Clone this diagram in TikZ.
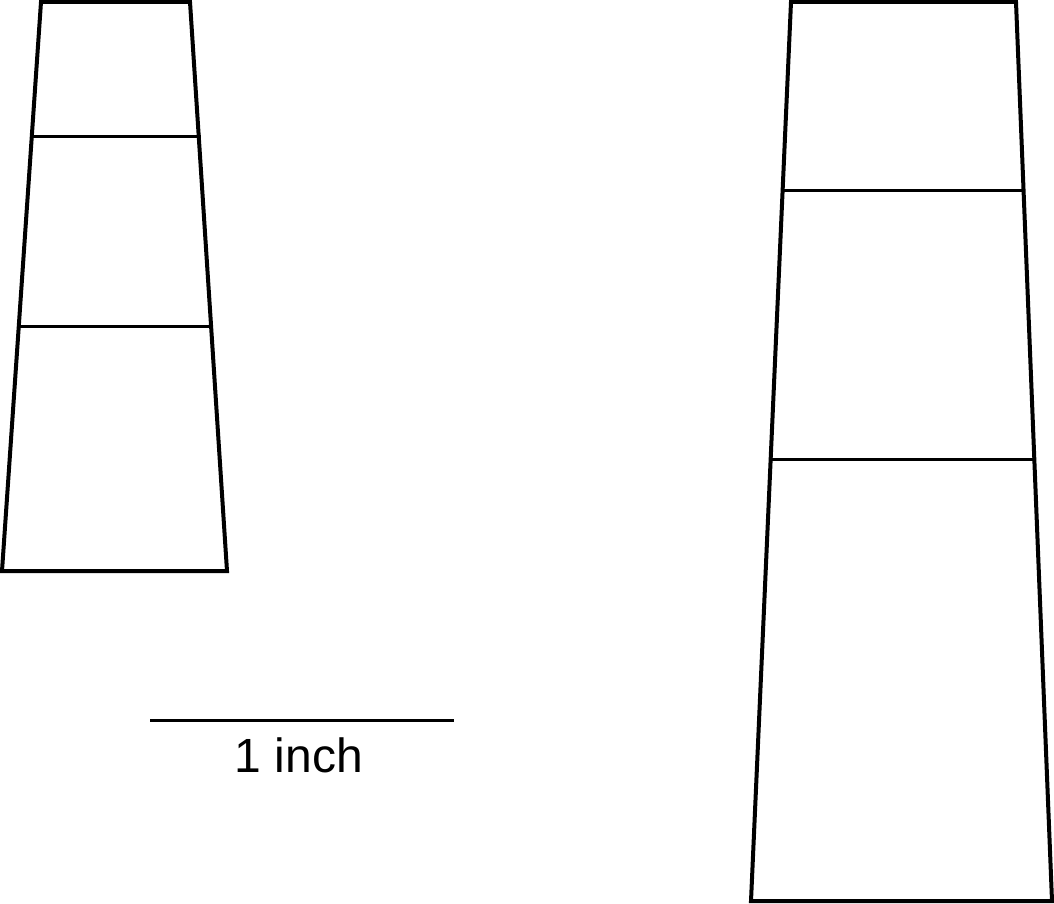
\documentclass[tikz,border=0pt]{standalone}
\usepackage{fontspec}
\setmainfont{Liberation Sans}
\begin{document}
\begin{tikzpicture}[x=1pt,y=-1pt,
  outline/.style={line width=4pt,line join=miter},
  rung/.style={line width=3pt},
  label/.style={font=\fontsize{48}{56}\selectfont,inner sep=0pt,anchor=base}]
\useasboundingbox (0,0) rectangle (1054,904);
% left tapered column
\draw[outline] (41,2) -- (190,2) -- (227,571) -- (2,571) -- cycle;
\draw[rung] (32,137) -- (201,137);
\draw[rung] (17,326) -- (210,326);
% right tapered column
\draw[outline] (791,2) -- (1016,2) -- (1052,901) -- (751,901) -- cycle;
\draw[rung] (783,191) -- (1022,191);
\draw[rung] (771,459) -- (1036,459);
% scale bar
\coordinate (sbL) at (150,720);
\coordinate (sbR) at (454,720);
\draw[rung] (sbL) -- (sbR);
\node[label] (scale) at (299,772) {1 inch};
\end{tikzpicture}
\end{document}
